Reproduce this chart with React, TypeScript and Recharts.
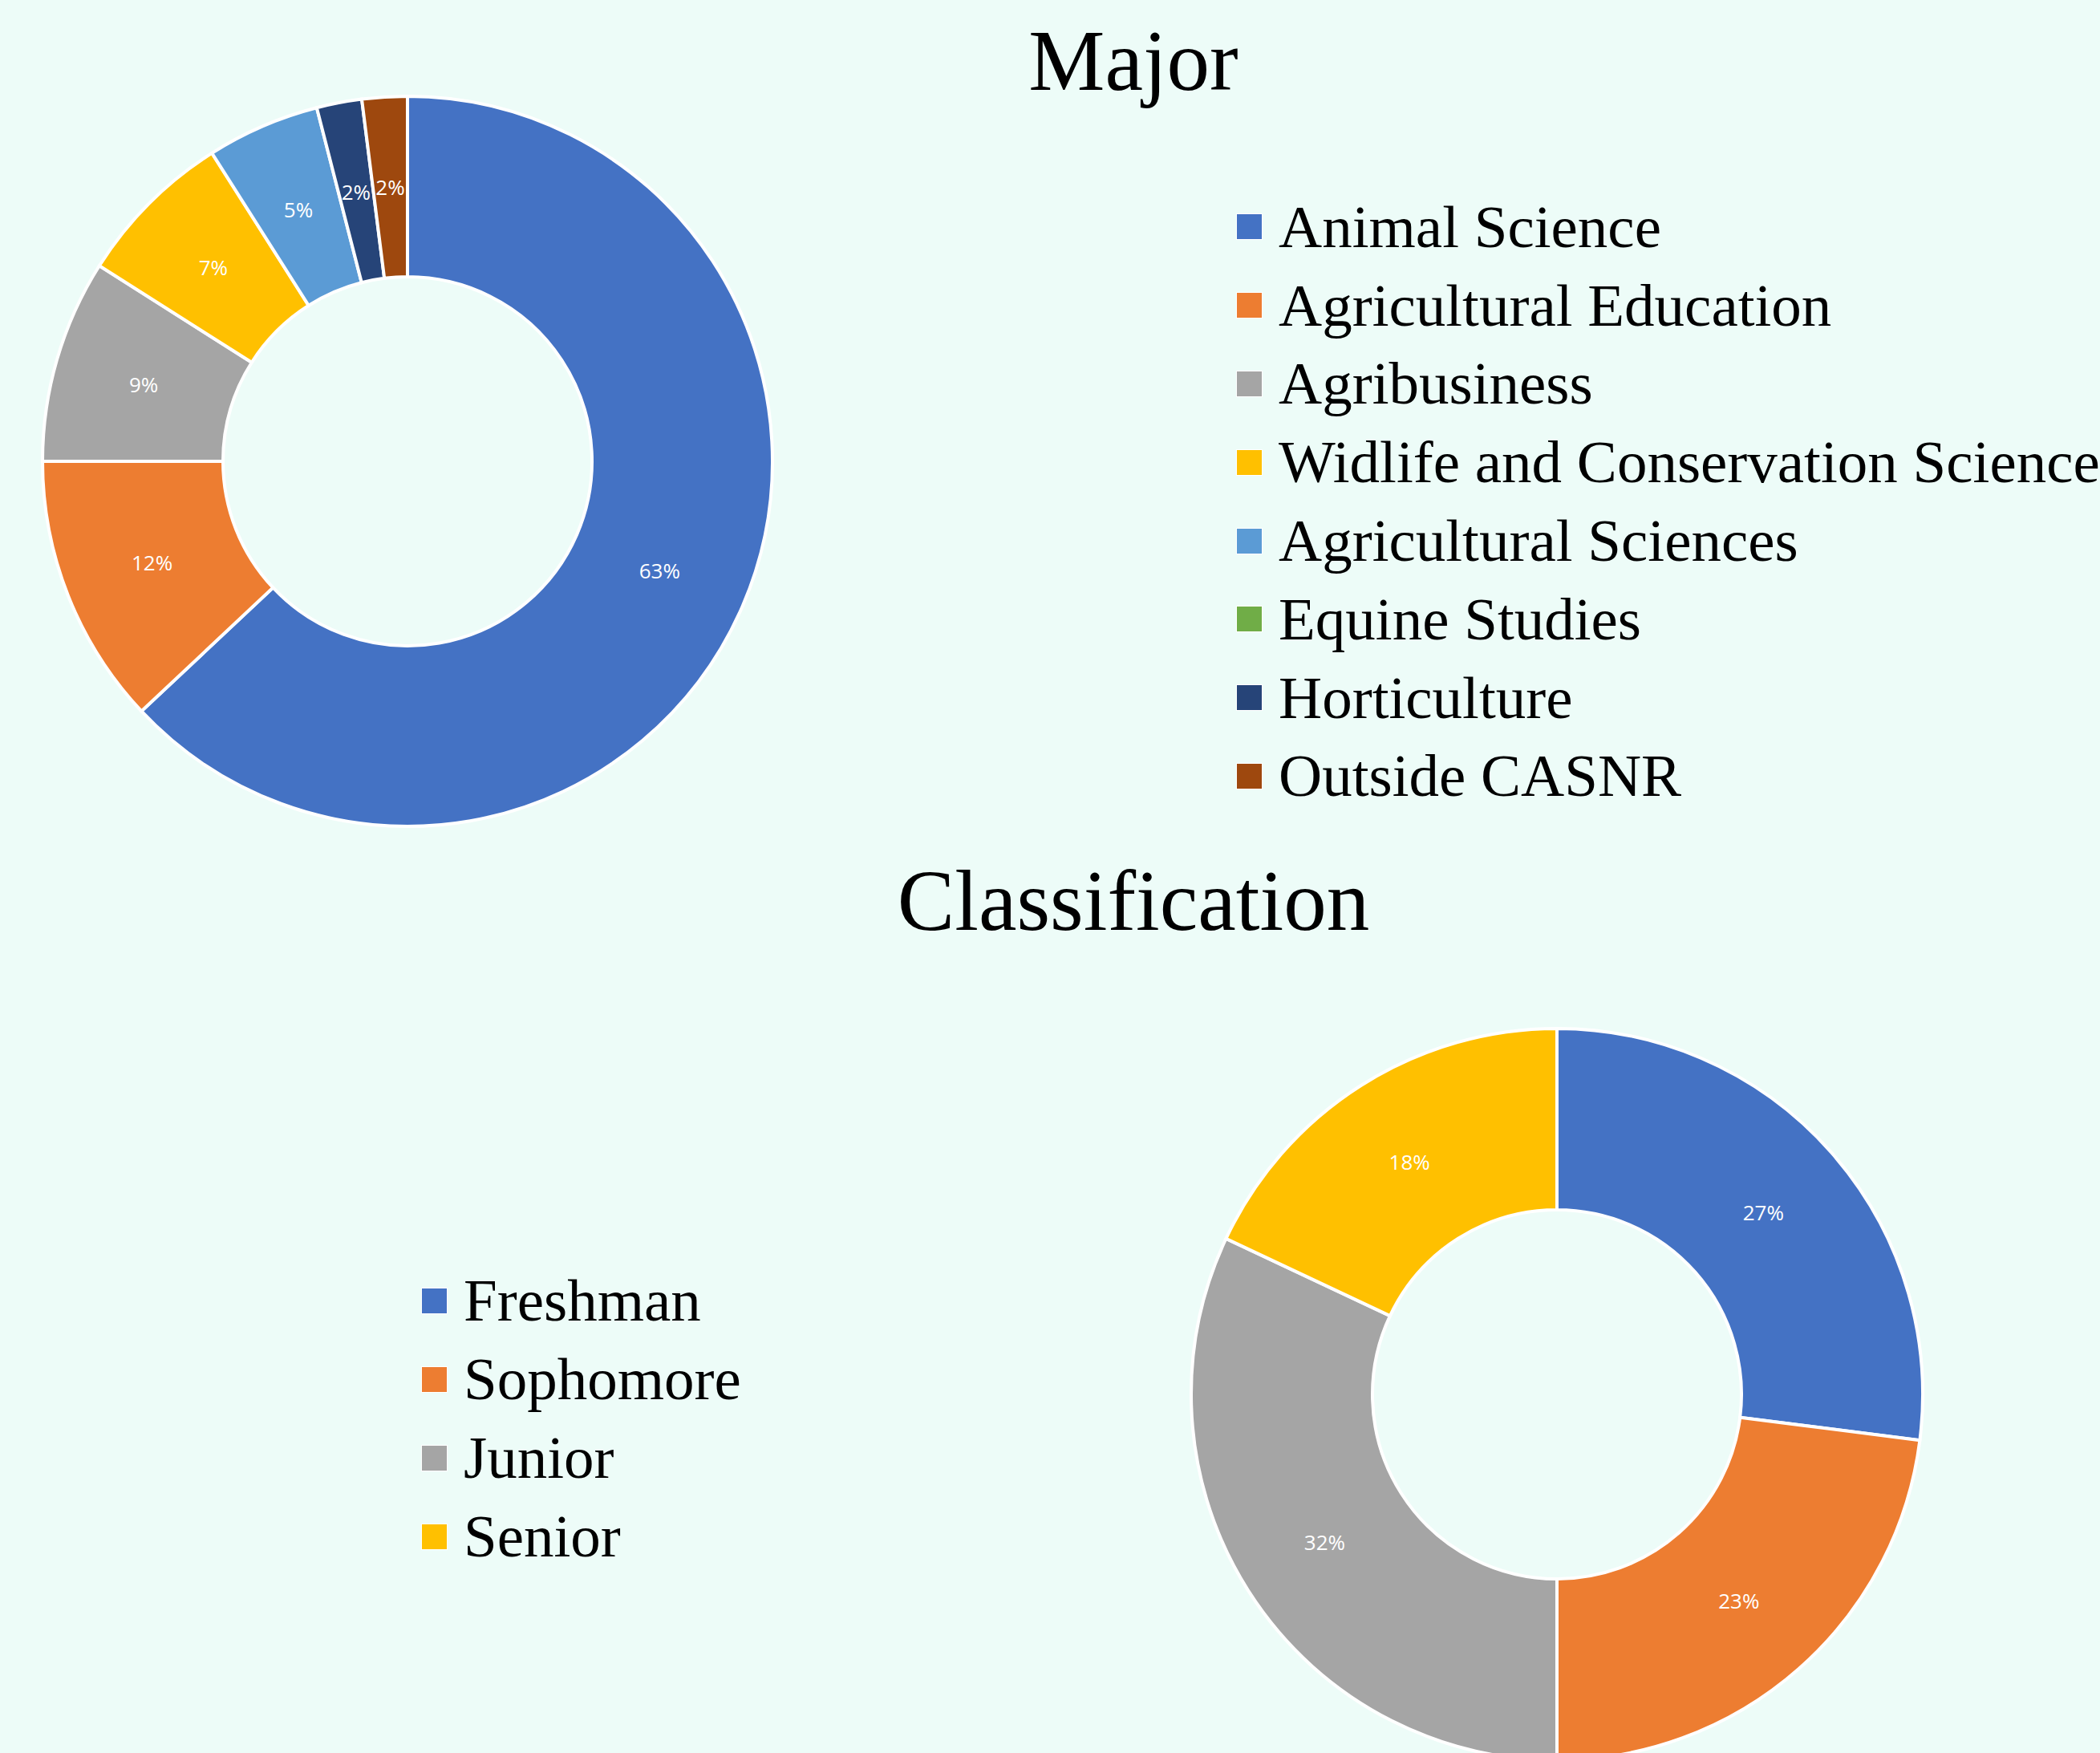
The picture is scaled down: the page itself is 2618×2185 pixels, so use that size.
import React from 'react';
import { PieChart, Pie, Cell, Legend } from 'recharts';

const majorNames = [
  'Animal Science',
  'Agricultural Education',
  'Agribusiness',
  'Widlife and Conservation Science',
  'Agricultural Sciences',
  'Equine Studies',
  'Horticulture',
  'Outside CASNR',
];
const majorValues = [63, 12, 9, 7, 5, 0, 2, 2];
const majorColors = ['#4472C4', '#ED7D31', '#A5A5A5', '#FFC000', '#5B9BD5', '#70AD47', '#264478', '#9E480E'];

const classNames = ['Freshman', 'Sophomore', 'Junior', 'Senior'];
const classValues = [27, 23, 32, 18];
const classColors = ['#4472C4', '#ED7D31', '#A5A5A5', '#FFC000'];

const majorData = majorNames.map((name, i) => ({ name, value: majorValues[i] }));
const classData = classNames.map((name, i) => ({ name, value: classValues[i] }));

const BG = '#EDFCF8';
const W = 2618;
const H = 2185;
const RADIAN = Math.PI / 180;

const renderLabel = (props: any) => {
  const { cx, cy, midAngle, innerRadius, outerRadius, value } = props;
  if (!value) return null;
  const r = (innerRadius + outerRadius) / 2;
  const x = cx + r * Math.cos(-midAngle * RADIAN);
  const y = cy + r * Math.sin(-midAngle * RADIAN);
  return (
    <text
      x={x}
      y={y}
      fill="#FFFFFF"
      textAnchor="middle"
      dominantBaseline="central"
      fontFamily="'Open Sans', sans-serif"
      fontSize={26}
    >
      {`${value}%`}
    </text>
  );
};

const makeLegend = (rowH: number, order: string[]) => (props: any) => {
  const payload = [...(props.payload || [])].sort(
    (a: any, b: any) => order.indexOf(a.value) - order.indexOf(b.value)
  );
  return (
    <ul style={{ listStyle: 'none', margin: 0, padding: 0 }}>
      {payload.map((entry: any, i: number) => (
        <li
          key={`leg-${i}`}
          style={{ display: 'flex', alignItems: 'center', height: rowH, whiteSpace: 'nowrap' }}
        >
          <span
            style={{
              display: 'inline-block',
              width: 31,
              height: 31,
              background: entry.color,
              border: '1.5px solid #FFFFFF',
              flex: 'none',
            }}
          />
          <span
            style={{
              marginLeft: 20,
              fontFamily: "'Liberation Serif', 'Times New Roman', serif",
              fontSize: 75,
              color: '#000000',
            }}
          >
            {entry.value}
          </span>
        </li>
      ))}
    </ul>
  );
};

const titleStyle: React.CSSProperties = {
  position: 'absolute',
  left: 0,
  width: 2826,
  textAlign: 'center',
  fontFamily: "'Liberation Serif', 'Times New Roman', serif",
  fontSize: 107,
  lineHeight: '107px',
  color: '#000',
  whiteSpace: 'nowrap',
};

export default function App() {
  return (
    <div
      style={{
        position: 'absolute',
        left: 0,
        top: 0,
        width: W,
        height: H,
        background: BG,
        overflow: 'hidden',
      }}
    >
      <div style={{ position: 'absolute', left: 0, top: 0 }}>
        <PieChart width={W} height={H} margin={{ top: 0, right: 0, bottom: 0, left: 0 }}>
          <Pie
            data={majorData}
            dataKey="value"
            nameKey="name"
            cx={508}
            cy={575}
            innerRadius={230}
            outerRadius={455}
            startAngle={90}
            endAngle={-270}
            stroke="#FFFFFF"
            strokeWidth={4}
            label={renderLabel}
            labelLine={false}
            isAnimationActive={false}
          >
            {majorData.map((d, i) => (
              <Cell key={`m-${i}`} fill={majorColors[i]} stroke="#FFFFFF" strokeWidth={4} />
            ))}
          </Pie>
          <Legend
            layout="vertical"
            align="center"
            verticalAlign="middle"
            itemSorter={(item: any) => majorNames.indexOf(item.value)}
            content={makeLegend(97.8, majorNames)}
            wrapperStyle={{ left: 1541, top: 234, width: 'auto' }}
          />
        </PieChart>
      </div>
      <div style={{ position: 'absolute', left: 0, top: 0 }}>
        <PieChart width={W} height={H} margin={{ top: 0, right: 0, bottom: 0, left: 0 }}>
          <Pie
            data={classData}
            dataKey="value"
            nameKey="name"
            cx={1941}
            cy={1738}
            innerRadius={230}
            outerRadius={456}
            startAngle={90}
            endAngle={-270}
            stroke="#FFFFFF"
            strokeWidth={4}
            label={renderLabel}
            labelLine={false}
            isAnimationActive={false}
          >
            {classData.map((d, i) => (
              <Cell key={`c-${i}`} fill={classColors[i]} stroke="#FFFFFF" strokeWidth={4} />
            ))}
          </Pie>
          <Legend
            layout="vertical"
            align="center"
            verticalAlign="middle"
            itemSorter={(item: any) => classNames.indexOf(item.value)}
            content={makeLegend(98, classNames)}
            wrapperStyle={{ left: 525, top: 1572, width: 'auto' }}
          />
        </PieChart>
      </div>
      <div style={{ ...titleStyle, top: 23 }}>Major</div>
      <div style={{ ...titleStyle, top: 1070 }}>Classification</div>
    </div>
  );
}
